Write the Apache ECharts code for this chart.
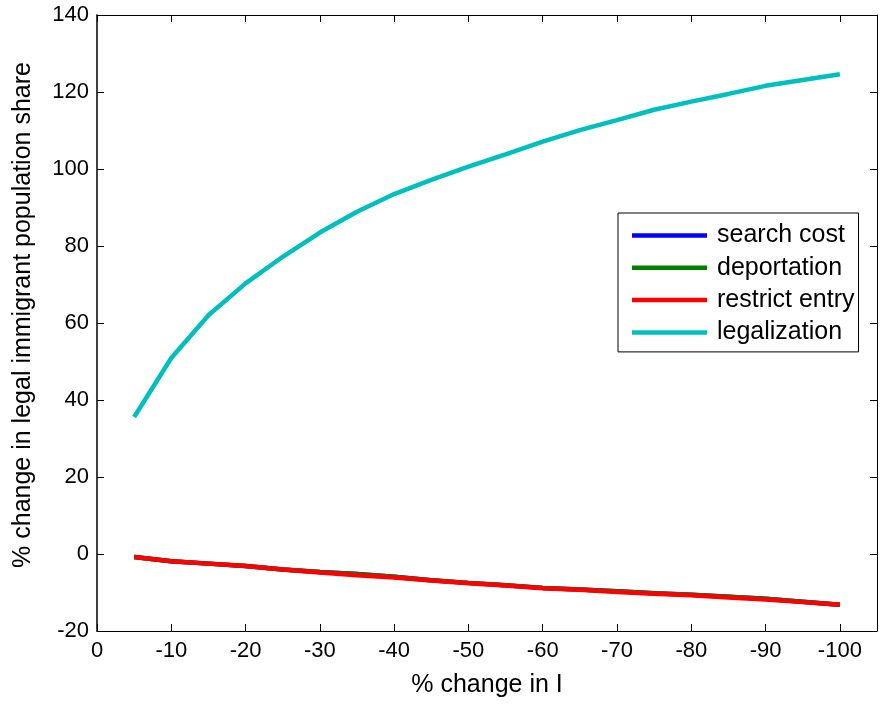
<!DOCTYPE html>
<html><head><meta charset="utf-8">
<script src="https://cdn.jsdelivr.net/npm/echarts@6/dist/echarts.min.js"></script>
<style>html,body{margin:0;padding:0;background:#fff}#c{width:880px;height:707px}</style>
</head><body><div id="c"></div>
<script>
const xValues = [5,10,15,20,25,30,35,40,45,50,55,60,65,70,75,80,85,90,95,100];
const searchCost = [-0.8,-1.9,-2.5,-3.1,-4.0,-4.7,-5.2,-5.9,-6.8,-7.5,-8.1,-8.8,-9.2,-9.7,-10.2,-10.6,-11.1,-11.6,-12.4,-13.2];
const deportation = [-0.8,-1.9,-2.5,-3.1,-4.0,-4.7,-5.2,-5.9,-6.8,-7.5,-8.1,-8.8,-9.2,-9.7,-10.2,-10.6,-11.1,-11.6,-12.4,-13.2];
const restrictEntry = [-0.8,-1.9,-2.5,-3.1,-4.0,-4.8,-5.5,-6.1,-6.9,-7.6,-8.2,-8.9,-9.3,-9.9,-10.3,-10.7,-11.3,-11.8,-12.5,-13.2];
const legalization = [35.6,50.9,62.0,70.3,77.2,83.5,88.9,93.5,97.2,100.6,103.8,107.1,110.1,112.7,115.4,117.5,119.5,121.6,123.1,124.6];
const seriesNames = ['search cost','deportation','restrict entry','legalization'];
const seriesColors = ['#0000ff','#008000','#ff0000','#00bfbf'];
const xLabel = '% change in I';
const yLabel = '% change in legal immigrant population share';

const font = 'Liberation Sans, Arial, sans-serif';
const chart = echarts.init(document.getElementById('c'));
const dataSets = [searchCost, deportation, restrictEntry, legalization];
const axisLine = {show:true, onZero:false, lineStyle:{color:'#000', width:1}};
const tickIn = {show:true, inside:true, length:7, lineStyle:{color:'#000'}};
chart.setOption({
  animation:false,
  grid:{left:97, right:3, top:15, bottom:76, containLabel:false},
  legend:{
    orient:'vertical', left:618, top:213,
    backgroundColor:'#fff', borderColor:'#000', borderWidth:1,
    padding:[10,4,7,14], itemGap:7.3, itemWidth:75, itemHeight:4.5,
    icon:'rect',
    textStyle:{fontFamily:font, fontSize:25, color:'#000', lineHeight:25, padding:[0,0,0,5]},
    data:seriesNames
  },
  xAxis:[{
    type:'value', min:0, max:105, interval:10, position:'bottom',
    name:xLabel, nameLocation:'middle', nameGap:42,
    nameTextStyle:{fontFamily:font, fontSize:25, color:'#000'},
    axisLine:axisLine, axisTick:tickIn, splitLine:{show:false},
    axisLabel:{fontFamily:font, fontSize:22, color:'#000', margin:9,
      formatter:v=> v===0 ? '0' : (v%10===0 ? '-'+v : '')}
  },{
    type:'value', min:0, max:105, interval:10, position:'top',
    axisLine:axisLine, axisTick:tickIn, splitLine:{show:false}, axisLabel:{show:false}
  }],
  yAxis:[{
    type:'value', min:-20, max:140, interval:20, position:'left',
    name:yLabel, nameLocation:'middle', nameGap:61,
    nameTextStyle:{fontFamily:font, fontSize:25, color:'#000', padding:[0,0,0,16]},
    axisLine:{show:true, onZero:false, lineStyle:{color:'#000', width:1.5}},
    axisTick:tickIn, splitLine:{show:false},
    axisLabel:{fontFamily:font, fontSize:22, color:'#000', margin:8}
  },{
    type:'value', min:-20, max:140, interval:20, position:'right',
    axisLine:axisLine, axisTick:tickIn, splitLine:{show:false}, axisLabel:{show:false}
  }],
  series: seriesNames.map((n,i)=>({
    name:n, type:'line', xAxisIndex:0, yAxisIndex:0,
    data: xValues.map((x,j)=>[x, dataSets[i][j]]),
    showSymbol:false, symbol:'none',
    lineStyle:{color:seriesColors[i], width:4.5},
    itemStyle:{color:seriesColors[i]}, z:2+i
  }))
});
</script></body></html>
